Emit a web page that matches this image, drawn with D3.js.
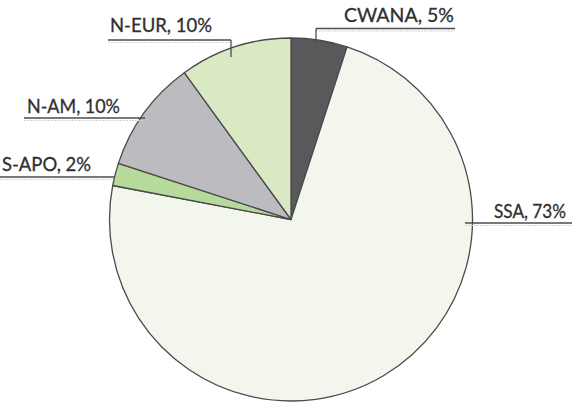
<!DOCTYPE html>
<html>
<head>
<meta charset="utf-8">
<script src="https://cdn.jsdelivr.net/npm/d3@7"></script>
<style>
  body { margin: 0; background: #fff; }
  svg { display: block; }
  text { font-family: Lato, "Open Sans", sans-serif; fill: #2f2f2f; }
</style>
</head>
<body>
<script>
// regions, clockwise from 12 o'clock
const regions = ["CWANA", "SSA", "S-APO", "N-AM", "N-EUR"]
const shares  = [5, 73, 2, 10, 10]
const colors  = ["#59595b", "#f2f6ec", "#b6da9b", "#bcbcc0", "#d9e9c4"]

const width = 572, height = 405
const cx = 291, cy = 219.5, r = 181.5

// label placement: text box, leader line, optional vertical tick
const labelLayout = {
  "CWANA": { tx: 344, ty: 22, w: 110, ly: 28.5, x0: 316, x1: 455, tick: 44 },
  "SSA":   { tx: 494, ty: 218, w: 72, ly: 223, x0: 465, x1: 572 },
  "S-APO": { tx: 2, ty: 171, w: 89, ly: 177, x0: 0, x1: 114 },
  "N-AM":  { tx: 27, ty: 113, w: 93, ly: 118, x0: 24, x1: 145 },
  "N-EUR": { tx: 110, ty: 32, w: 102, ly: 40, x0: 108, x1: 231, tick: 57 }
}

const data = regions.map((name, i) => ({ name, value: shares[i], color: colors[i] }))

const svg = d3.select("body").append("svg")
  .attr("width", width)
  .attr("height", height)

const pie = d3.pie().sort(null).value(d => d.value)
const arc = d3.arc().innerRadius(0).outerRadius(r)

const g = svg.append("g").attr("transform", `translate(${cx},${cy})`)

g.selectAll("path")
  .data(pie(data))
  .join("path")
    .attr("d", arc)
    .attr("fill", d => d.data.color)
    .attr("stroke", "#4a4a4a")
    .attr("stroke-width", 1.3)
    .attr("stroke-linejoin", "round")

// labels and leaders
const labels = svg.append("g")

data.forEach(d => {
  const L = labelLayout[d.name]
  // faint shadow line under the leader
  labels.append("line")
    .attr("x1", L.x0).attr("x2", L.x1)
    .attr("y1", L.ly + 2.5).attr("y2", L.ly + 2.5)
    .attr("stroke", "#d4d4d4")
    .attr("stroke-width", 1)
    .attr("stroke-dasharray", "2,1")
  labels.append("line")
    .attr("x1", L.x0).attr("x2", L.x1)
    .attr("y1", L.ly).attr("y2", L.ly)
    .attr("stroke", "#4d4d4d")
    .attr("stroke-width", 1.6)
  if (L.tick) {
    const tx = d.name == "CWANA" ? L.x0 : L.x1
    labels.append("line")
      .attr("x1", tx).attr("x2", tx)
      .attr("y1", L.ly).attr("y2", L.tick)
      .attr("stroke", "#4d4d4d")
      .attr("stroke-width", 1.3)
  }
  labels.append("text")
    .attr("x", L.tx)
    .attr("y", L.ty)
    .attr("font-size", 18.5)
    .attr("stroke", "#2f2f2f")
    .attr("stroke-width", 0.3)
    .attr("textLength", L.w)
    .attr("lengthAdjust", "spacingAndGlyphs")
    .text(`${d.name}, ${d.value}%`)
})
</script>
</body>
</html>
